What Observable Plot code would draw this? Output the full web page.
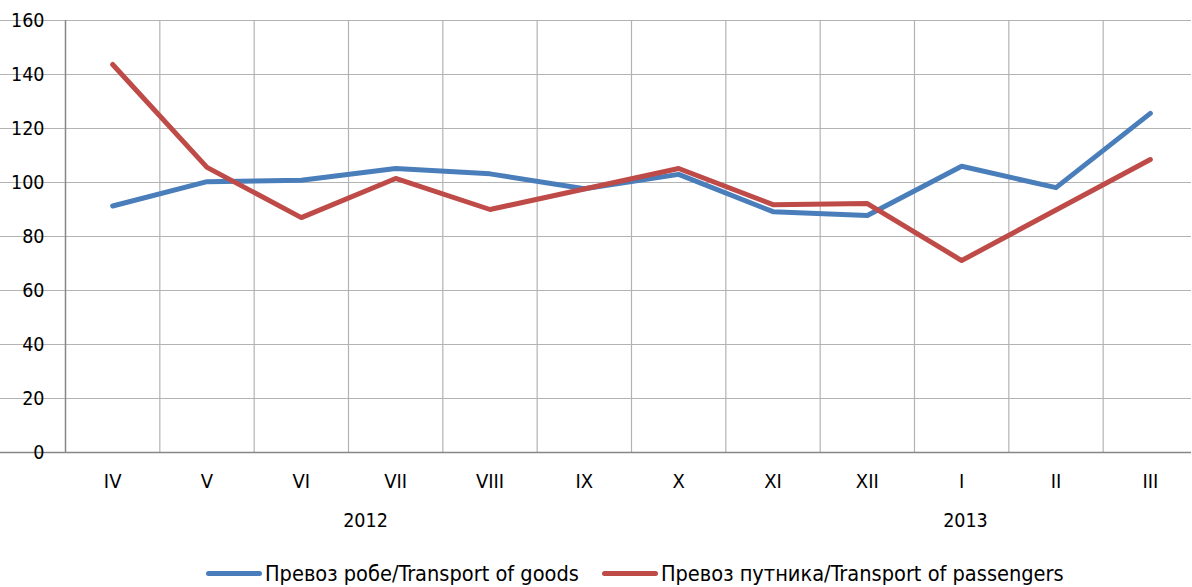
<!DOCTYPE html>
<html>
<head>
<meta charset="utf-8">
<script src="https://cdn.jsdelivr.net/npm/d3@7"></script>
<script src="https://cdn.jsdelivr.net/npm/@observablehq/plot@0.6"></script>
<style>
  html, body { margin: 0; padding: 0; background: #fff; }
  #wrap { position: relative; width: 1192px; height: 587px; overflow: hidden; }
  #legend { position: absolute; left: 206px; top: 559px; height: 28px; display: flex; align-items: center;
    font-family: "DejaVu Sans Condensed", "DejaVu Sans", sans-serif; font-size: 21.6px; color: #000; white-space: nowrap; }
  .item { display: flex; align-items: center; margin-right: 23px; }
  .sw { width: 56px; height: 5px; border-radius: 3px; margin-right: 3px; }
</style>
</head>
<body>
<div id="wrap">
  <div id="chart"></div>
  <div id="legend"></div>
</div>
<script>
const months = ["IV", "V", "VI", "VII", "VIII", "IX", "X", "XI", "XII", "I", "II", "III"];
const goods = [91.3, 100.3, 100.8, 105.2, 103.2, 97.7, 103.0, 89.2, 87.8, 106.0, 98.1, 125.6];
const passengers = [143.7, 105.6, 87.0, 101.5, 90.0, 97.6, 105.2, 91.8, 92.2, 71.1, 89.8, 108.5];
const seriesNames = ["Превоз робе/Transport of goods", "Превоз путника/Transport of passengers"];
const seriesColors = ["#4a7ebb", "#be4b48"];
const yTicks = [0, 20, 40, 60, 80, 100, 120, 140, 160];
const years = [{label: "2012", at: 2.68}, {label: "2013", at: 9.04}];

const data = [];
months.forEach((m, i) => {
  data.push({i, month: m, value: goods[i], series: seriesNames[0]});
  data.push({i, month: m, value: passengers[i], series: seriesNames[1]});
});
const monthIdx = months.map((m, i) => ({i, m}));
const boundaries = months.slice(1).map((m, i) => i + 0.5);

const chart = Plot.plot({
  width: 1192,
  height: 545,
  x: {domain: [-0.5, 11.5], range: [65, 1197], axis: null},
  y: {domain: [0, 160], range: [452, 20], axis: null},
  color: {domain: seriesNames, range: seriesColors},
  style: {fontFamily: "DejaVu Sans Condensed, DejaVu Sans, sans-serif", fontSize: "19px", color: "#000", background: "#fff"},
  marks: [
    Plot.ruleY(yTicks.filter(d => d > 0), {stroke: "#b3b3b3", strokeWidth: 1.2, strokeOpacity: 1}),
    Plot.ruleX(boundaries, {y1: 0, y2: 160, stroke: "#b3b3b3", strokeWidth: 1.2, strokeOpacity: 1}),
    Plot.ruleX([-0.5], {y1: 0, y2: 160, stroke: "#868686", strokeWidth: 1.5}),
    Plot.ruleY([0], {stroke: "#868686", strokeWidth: 1.5}),
    Plot.text(yTicks, {x: -0.5, y: d => d, text: d => String(d), dx: -21, textAnchor: "end", fontSize: 19.5, fill: "#000"}),
    Plot.text(monthIdx, {x: "i", y: 0, text: "m", dy: 29, fontSize: 20, fill: "#000"}),
    Plot.text(years, {x: "at", y: 0, text: "label", dy: 68, fontSize: 19.5, fill: "#000"}),
    Plot.line(data, {x: "i", y: "value", z: "series", stroke: "series", strokeWidth: 5, strokeLinejoin: "round", strokeLinecap: "round"})
  ]
});
document.getElementById("chart").appendChild(chart);

const legend = document.getElementById("legend");
seriesNames.forEach((name, k) => {
  const item = document.createElement("div");
  item.className = "item";
  const sw = document.createElement("div");
  sw.className = "sw";
  sw.style.background = seriesColors[k];
  const t = document.createElement("span");
  t.textContent = name;
  item.appendChild(sw);
  item.appendChild(t);
  legend.appendChild(item);
});
</script>
</body>
</html>
